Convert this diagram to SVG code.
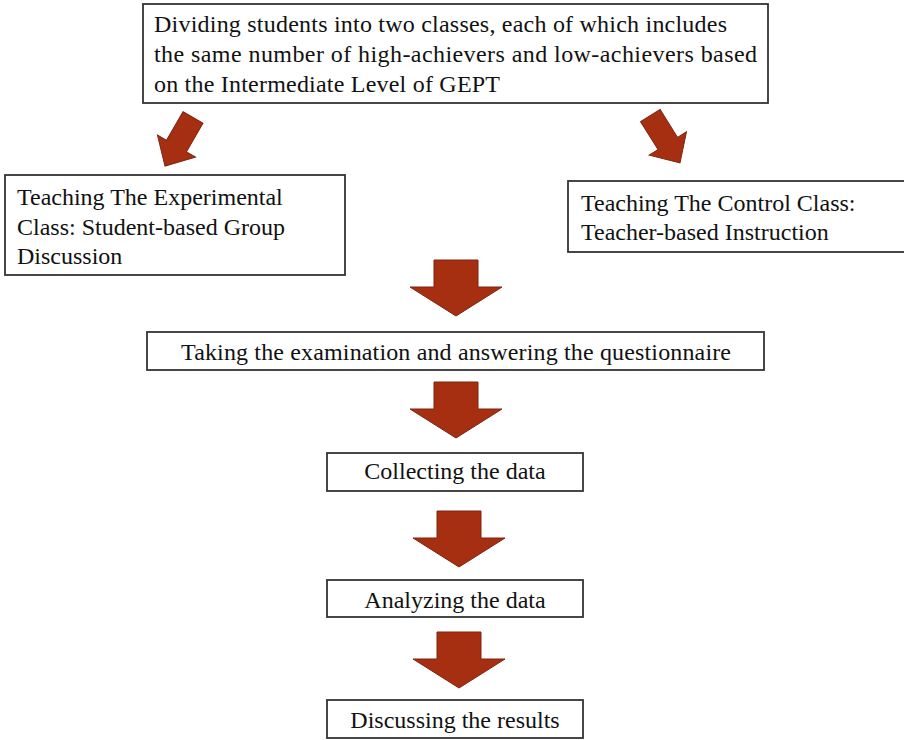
<svg xmlns="http://www.w3.org/2000/svg" width="904" height="740" viewBox="0 0 904 740">
  <defs>
    <style>
      .box { fill: #ffffff; stroke: #333333; stroke-width: 1.8; }
      .lbl { font-family: "Liberation Serif", "Times New Roman", serif; font-size: 24px; fill: #111111; }
      .mid { text-anchor: middle; }
      .arrow { fill: #a52f10; stroke: #7e2410; stroke-width: 1; stroke-linejoin: miter; }
    </style>
    <!-- block arrow pointing down, tip at origin -->
    <path id="diagArrow" d="M-11.5,-56 L11.5,-56 L11.5,-23 L22,-23 L0,0 L-22,-23 L-11.5,-23 Z"/>
    <path id="downArrow" d="M-22,-56 L22,-56 L22,-29 L46,-29 L0,0 L-46,-29 L-22,-29 Z"/>
  </defs>
  <rect width="904" height="740" fill="#ffffff"/>

  <g id="connectors">
    <use href="#diagArrow" class="arrow" transform="translate(165,166) rotate(30)"/>
    <use href="#diagArrow" class="arrow" transform="translate(680,163) rotate(-32)"/>
    <use href="#downArrow" class="arrow" transform="translate(456,316)"/>
    <use href="#downArrow" class="arrow" transform="translate(456,438)"/>
    <use href="#downArrow" class="arrow" transform="translate(459,567)"/>
    <use href="#downArrow" class="arrow" transform="translate(459,688)"/>
  </g>

  <g id="divide">
    <rect class="box" x="143" y="4" width="625" height="99"/>
    <text class="lbl" x="154" y="32" textLength="573" lengthAdjust="spacing">Dividing students into two classes, each of which includes</text>
    <text class="lbl" x="154" y="62" textLength="603" lengthAdjust="spacing">the same number of high-achievers and low-achievers based</text>
    <text class="lbl" x="154" y="92" textLength="346" lengthAdjust="spacing">on the Intermediate Level of GEPT</text>
  </g>

  <g id="experimental">
    <rect class="box" x="5" y="175" width="340" height="100"/>
    <text class="lbl" x="17" y="205">Teaching The Experimental</text>
    <text class="lbl" x="17" y="235">Class: Student-based Group</text>
    <text class="lbl" x="17" y="264">Discussion</text>
  </g>

  <g id="control">
    <rect class="box" x="568" y="181" width="340" height="71"/>
    <text class="lbl" x="581" y="211">Teaching The Control Class:</text>
    <text class="lbl" x="581" y="240">Teacher-based Instruction</text>
  </g>

  <g id="exam">
    <rect class="box" x="147" y="332" width="617" height="38"/>
    <text class="lbl mid" x="456" y="360" textLength="550" lengthAdjust="spacing">Taking the examination and answering the questionnaire</text>
  </g>

  <g id="collect">
    <rect class="box" x="327" y="453" width="256" height="38"/>
    <text class="lbl mid" x="455" y="479">Collecting the data</text>
  </g>

  <g id="analyze">
    <rect class="box" x="327" y="580" width="256" height="37"/>
    <text class="lbl mid" x="455" y="608">Analyzing the data</text>
  </g>

  <g id="discuss">
    <rect class="box" x="327" y="700" width="256" height="38"/>
    <text class="lbl mid" x="455" y="728">Discussing the results</text>
  </g>
</svg>
